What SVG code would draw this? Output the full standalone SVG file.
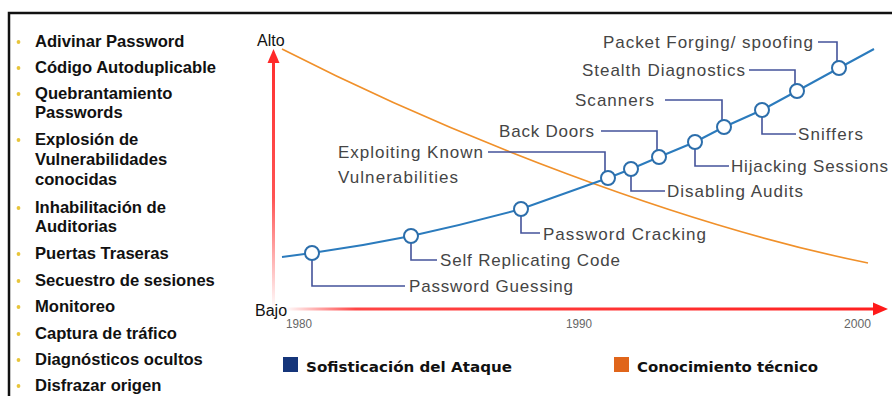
<svg xmlns="http://www.w3.org/2000/svg" width="892" height="396" viewBox="0 0 892 396">
<style>
.li{font-family:"Liberation Sans",Arial,sans-serif;font-weight:bold;font-size:16.6px;fill:#111}
.bu{fill:#e8c53a}
.lb{font-family:"Liberation Sans",Arial,sans-serif;font-size:17px;fill:#454545}
.ld{fill:none;stroke:#44539a;stroke-width:1.6}
.nd{fill:#fff;stroke:#2c6eab;stroke-width:2}
.ax{font-family:"Liberation Sans",Arial,sans-serif;font-size:16px;fill:#111}
.yr{font-family:"Liberation Sans",Arial,sans-serif;font-size:12px;fill:#666}
.lg{font-family:"DejaVu Sans",Verdana,sans-serif;font-weight:bold;font-size:14.5px;fill:#111}
</style>
<defs>
<linearGradient id="gv" x1="0" y1="1" x2="0" y2="0">
<stop offset="0" stop-color="#ff4040" stop-opacity="0"/>
<stop offset="0.45" stop-color="#ff4040" stop-opacity="0.9"/>
<stop offset="1" stop-color="#ff3030"/>
</linearGradient>
<linearGradient id="gh" x1="0" y1="0" x2="1" y2="0">
<stop offset="0" stop-color="#ff3030" stop-opacity="0"/>
<stop offset="0.12" stop-color="#ff3030" stop-opacity="0.9"/>
<stop offset="1" stop-color="#ff2020"/>
</linearGradient>
</defs>
<rect width="892" height="396" fill="#fff"/>
<!-- frame -->
<path d="M9,396 V13 H892" fill="none" stroke="#111" stroke-width="2.5"/>

<!-- left list -->
<g id="list">
<circle class="bu" cx="18.5" cy="42" r="1.9"/><text class="li" x="35" y="47">Adivinar Password</text>
<circle class="bu" cx="18.5" cy="68" r="1.9"/><text class="li" x="35" y="73">Código Autoduplicable</text>
<circle class="bu" cx="18.5" cy="94" r="1.9"/><text class="li" x="35" y="99">Quebrantamiento</text>
<text class="li" x="35" y="118">Passwords</text>
<circle class="bu" cx="18.5" cy="140" r="1.9"/><text class="li" x="35" y="145">Explosión de</text>
<text class="li" x="35" y="165">Vulnerabilidades</text>
<text class="li" x="35" y="185">conocidas</text>
<circle class="bu" cx="18.5" cy="208" r="1.9"/><text class="li" x="35" y="213">Inhabilitación de</text>
<text class="li" x="35" y="232">Auditorias</text>
<circle class="bu" cx="18.5" cy="254" r="1.9"/><text class="li" x="35" y="259">Puertas Traseras</text>
<circle class="bu" cx="18.5" cy="281" r="1.9"/><text class="li" x="35" y="286">Secuestro de sesiones</text>
<circle class="bu" cx="18.5" cy="307" r="1.9"/><text class="li" x="35" y="312">Monitoreo</text>
<circle class="bu" cx="18.5" cy="334" r="1.9"/><text class="li" x="35" y="339">Captura de tráfico</text>
<circle class="bu" cx="18.5" cy="360" r="1.9"/><text class="li" x="35" y="365">Diagnósticos ocultos</text>
<circle class="bu" cx="18.5" cy="386" r="1.9"/><text class="li" x="35" y="391">Disfrazar origen</text>
</g>

<!-- axes -->
<g id="axes">
<rect x="272" y="60" width="3" height="250" fill="url(#gv)"/>
<polygon points="273.5,49 267.5,63 279.5,63" fill="#ff2a2a"/>
<rect x="285" y="307.5" width="590" height="3" fill="url(#gh)"/>
<polygon points="888,309 873,302.5 873,315.5" fill="#ff1a1a"/>
<text class="ax" x="257" y="46">Alto</text>
<text class="ax" x="255" y="316">Bajo</text>
<text class="yr" x="286" y="328" textLength="26" lengthAdjust="spacingAndGlyphs">1980</text>
<text class="yr" x="566" y="328" textLength="26" lengthAdjust="spacingAndGlyphs">1990</text>
<text class="yr" x="844" y="328" textLength="27" lengthAdjust="spacingAndGlyphs">2000</text>
</g>

<!-- curves -->
<g id="connectors">
<path d="M282,49 C450,135 680,225 868,263" fill="none" stroke="#f0902a" stroke-width="1.6"/>
<path d="M282,257 L312,253 Q362,246 411,236 Q466,224 521,209 L608,178 L631,169 L659,157 L695,142 L724,127 L762,110 L797,91 L839,68 L874,49" fill="none" stroke="#2b7bbd" stroke-width="2"/>
<path class="ld" d="M312,260 V286 H405"/>
<path class="ld" d="M411,243 V260 H437"/>
<path class="ld" d="M521,216 V233 H540"/>
<path class="ld" d="M488,152 H605 V171"/>
<path class="ld" d="M601,131 H657 V150"/>
<path class="ld" d="M631,176 V191 H665"/>
<path class="ld" d="M695,149 V166 H729"/>
<path class="ld" d="M665,100 H722 V120"/>
<path class="ld" d="M762,117 V134 H796"/>
<path class="ld" d="M749,70 H795 V84"/>
<path class="ld" d="M818,42 H837 V61"/>
</g>

<!-- nodes -->
<g id="n-guessing"><circle class="nd" cx="312" cy="253" r="7"/><text class="lb" x="409" y="292" textLength="164" lengthAdjust="spacing">Password Guessing</text></g>
<g id="n-selfrep"><circle class="nd" cx="411" cy="236" r="7"/><text class="lb" x="440" y="266" textLength="180" lengthAdjust="spacing">Self Replicating Code</text></g>
<g id="n-cracking"><circle class="nd" cx="521" cy="209" r="7"/><text class="lb" x="543" y="240" textLength="163" lengthAdjust="spacing">Password Cracking</text></g>
<g id="n-exploiting"><circle class="nd" cx="608" cy="178" r="7"/><text class="lb" x="338" y="158" textLength="145" lengthAdjust="spacing">Exploiting Known</text><text class="lb" x="338" y="183" textLength="120" lengthAdjust="spacing">Vulnerabilities</text></g>
<g id="n-disabling"><circle class="nd" cx="631" cy="169" r="7"/><text class="lb" x="667" y="197" textLength="136" lengthAdjust="spacing">Disabling Audits</text></g>
<g id="n-backdoors"><circle class="nd" cx="659" cy="157" r="7"/><text class="lb" x="499" y="137" textLength="95" lengthAdjust="spacing">Back Doors</text></g>
<g id="n-hijacking"><circle class="nd" cx="695" cy="142" r="7"/><text class="lb" x="731" y="172" textLength="157" lengthAdjust="spacing">Hijacking Sessions</text></g>
<g id="n-scanners"><circle class="nd" cx="724" cy="127" r="7"/><text class="lb" x="575" y="106" textLength="79" lengthAdjust="spacing">Scanners</text></g>
<g id="n-sniffers"><circle class="nd" cx="762" cy="110" r="7"/><text class="lb" x="798" y="140" textLength="65" lengthAdjust="spacing">Sniffers</text></g>
<g id="n-stealth"><circle class="nd" cx="797" cy="91" r="7"/><text class="lb" x="582" y="76" textLength="163" lengthAdjust="spacing">Stealth Diagnostics</text></g>
<g id="n-packet"><circle class="nd" cx="839" cy="68" r="7"/><text class="lb" x="603" y="48" textLength="210" lengthAdjust="spacing">Packet Forging/ spoofing</text></g>

<!-- legend -->
<g id="legend">
<rect x="283" y="357" width="15" height="15" fill="#15357a"/>
<text class="lg" x="306" y="372" textLength="206" lengthAdjust="spacingAndGlyphs">Sofisticación del Ataque</text>
<rect x="614" y="357" width="15" height="15" fill="#e0651a"/>
<text class="lg" x="637" y="372" textLength="181" lengthAdjust="spacingAndGlyphs">Conocimiento técnico</text>
</g>
</svg>
